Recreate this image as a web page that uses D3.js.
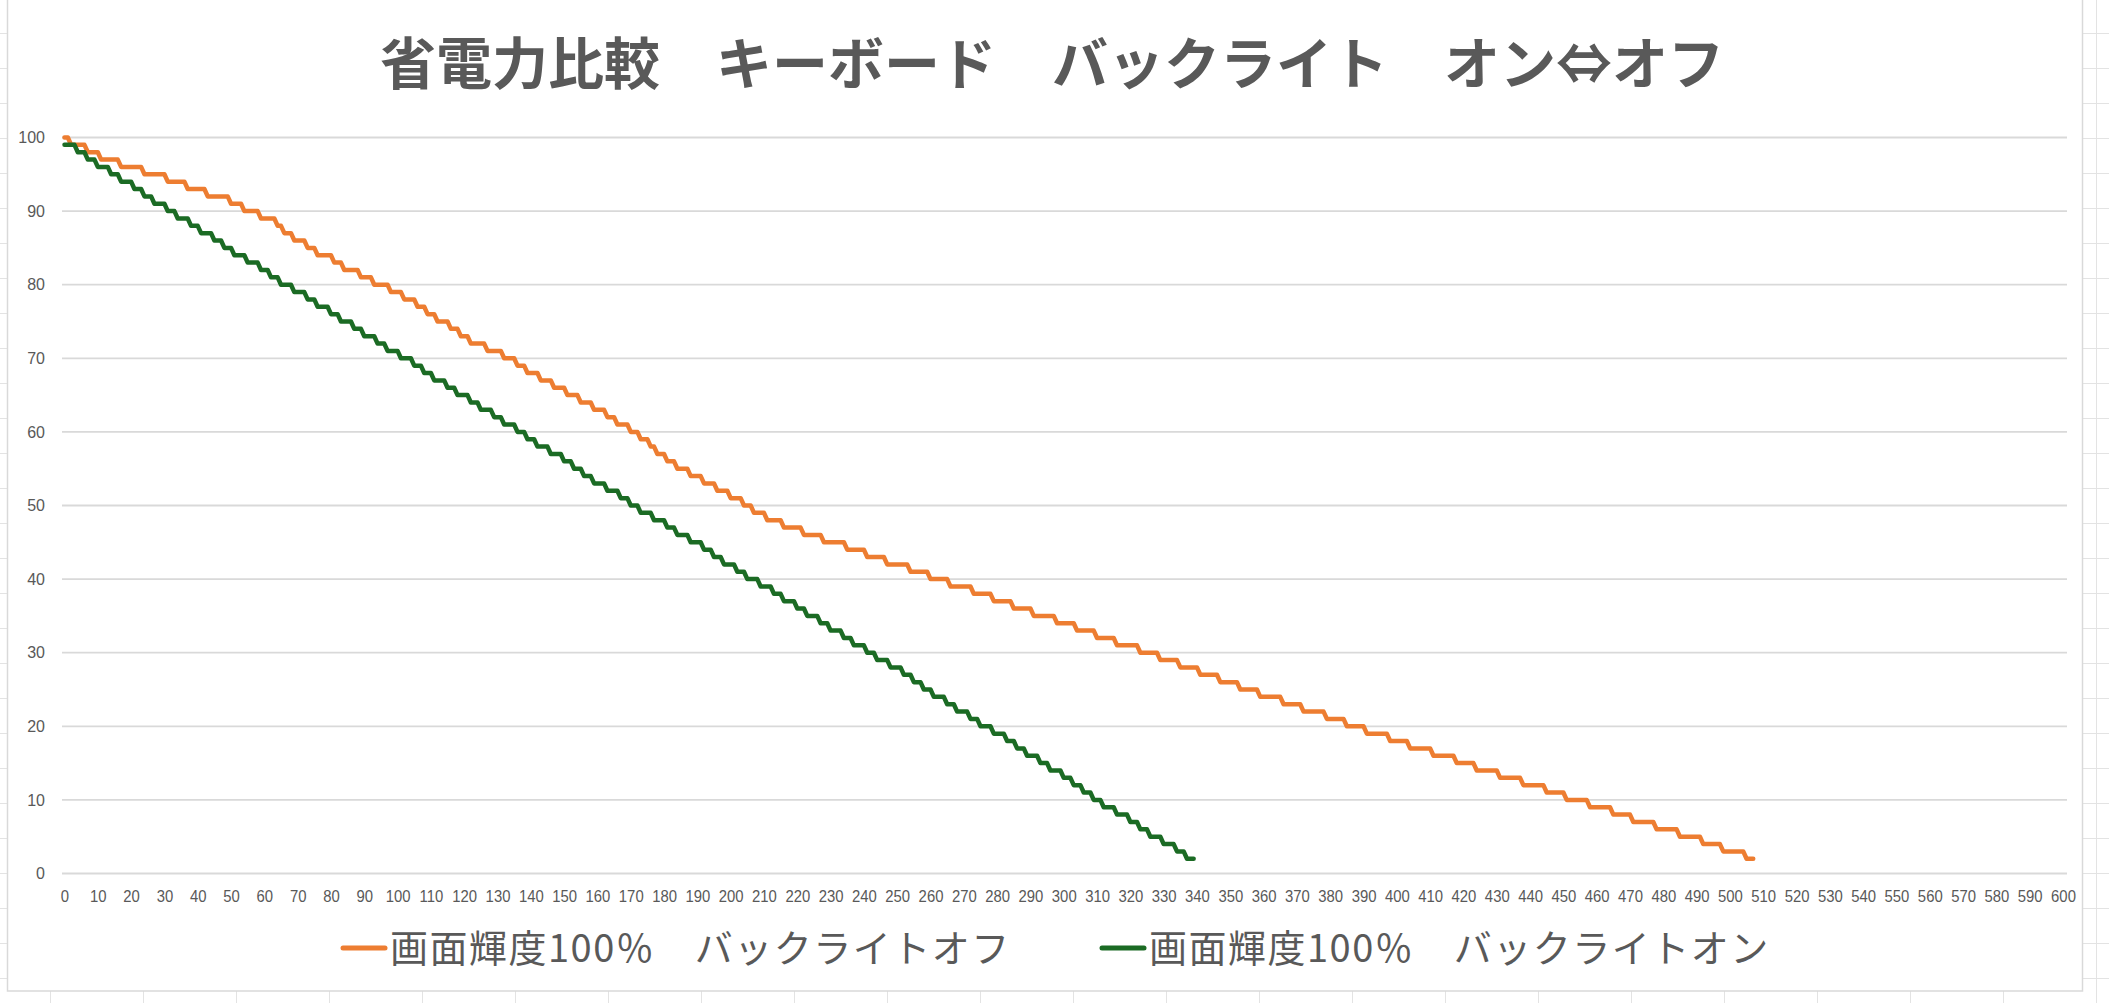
<!DOCTYPE html>
<html>
<head>
<meta charset="utf-8">
<script src="https://cdn.jsdelivr.net/npm/d3@7"></script>
<style>
    body { margin: 0; background: #fff; }
    #chart-area { width: 2109px; height: 1003px; }
    .tick text { font-family: "Liberation Sans", Arial, sans-serif; font-size: 16px; fill: #595959; }
</style>
</head>
<body>
<div id="chart-area"></div>
<script>

// [minute, battery %] at the moment each new level is first shown
const backlightOff = [
    [0,100],[2,99],[7,98],[11,97],[17,96],[24,95],[31,94],[37,93],[43,92],[50,91],
    [54,90],[59,89],[64,88],[66,87],[69,86],[73,85],[76,84],[81,83],[84,82],[89,81],
    [93,80],[98,79],[102,78],[106,77],[109,76],[112,75],[116,74],[119,73],[122,72],[127,71],
    [132,70],[136,69],[139,68],[143,67],[147,66],[151,65],[155,64],[159,63],[163,62],[166,61],
    [170,60],[173,59],[176,58],[178,57],[181,56],[184,55],[188,54],[192,53],[196,52],[200,51],
    [204,50],[207,49],[211,48],[216,47],[222,46],[228,45],[235,44],[241,43],[247,42],[254,41],
    [260,40],[266,39],[273,38],[279,37],[285,36],[291,35],[298,34],[304,33],[310,32],[316,31],
    [323,30],[329,29],[335,28],[341,27],[347,26],[353,25],[359,24],[366,23],[372,22],[379,21],
    [385,20],[391,19],[398,18],[404,17],[411,16],[418,15],[424,14],[431,13],[438,12],[445,11],
    [451,10],[458,9],[465,8],[471,7],[478,6],[485,5],[492,4],[498,3],[505,2],[507,2]
];

const backlightOn = [
    [0,99],[4,98],[7,97],[10,96],[14,95],[17,94],[21,93],[24,92],[27,91],[31,90],
    [34,89],[38,88],[41,87],[45,86],[48,85],[51,84],[55,83],[59,82],[62,81],[65,80],
    [69,79],[73,78],[76,77],[80,76],[83,75],[87,74],[90,73],[94,72],[97,71],[101,70],
    [105,69],[108,68],[111,67],[115,66],[118,65],[122,64],[125,63],[129,62],[132,61],[136,60],
    [139,59],[142,58],[146,57],[150,56],[153,55],[156,54],[159,53],[163,52],[167,51],[170,50],
    [173,49],[177,48],[181,47],[184,46],[188,45],[192,44],[195,43],[198,42],[202,41],[205,40],
    [209,39],[213,38],[216,37],[220,36],[223,35],[227,34],[230,33],[234,32],[237,31],[241,30],
    [244,29],[248,28],[252,27],[255,26],[258,25],[261,24],[265,23],[268,22],[272,21],[275,20],
    [279,19],[283,18],[286,17],[289,16],[293,15],[296,14],[300,13],[303,12],[306,11],[309,10],
    [312,9],[316,8],[320,7],[323,6],[326,5],[330,4],[334,3],[337,2],[339,2]
];

const seriesNames = ["画面輝度100％　バックライトオフ", "画面輝度100％　バックライトオン"];
const seriesColors = ["#ED7D31", "#1b6b24"];

const yTicks = [0, 10, 20, 30, 40, 50, 60, 70, 80, 90, 100];
const xTicks = [0, 10, 20, 30, 40, 50, 60, 70, 80, 90, 100, 110, 120, 130, 140, 150, 160, 170, 180, 190,
    200, 210, 220, 230, 240, 250, 260, 270, 280, 290, 300, 310, 320, 330, 340, 350, 360, 370, 380, 390,
    400, 410, 420, 430, 440, 450, 460, 470, 480, 490, 500, 510, 520, 530, 540, 550, 560, 570, 580, 590, 600];

const chartTitle = "省電力比較　キーボード　バックライト　オン⇔オフ";


class StepLineVis {

    constructor(parentElement, series) {
        this.parentElement = parentElement;
        this.series = series;

        this.initVis();
    }

    initVis() {
        let vis = this;

        vis.width = 2109;
        vis.height = 1003;
        vis.plot = {left: 62, right: 2067, x0: 64.5, x1: 2063, top: 137.5, bottom: 873.5};

        vis.svg = d3.select("#" + vis.parentElement).append("svg")
            .attr("width", vis.width)
            .attr("height", vis.height);

        // spreadsheet cells peeking out around the chart
        let cells = vis.svg.append("g").attr("stroke", "#e3e3e3").attr("stroke-width", 1);
        cells.selectAll(".row")
            .data(d3.range(-2, vis.height, 35))
            .join("line")
            .attr("x1", 0).attr("x2", vis.width)
            .attr("y1", d => d + 0.5).attr("y2", d => d + 0.5);
        cells.selectAll(".col")
            .data(d3.range(50, vis.width, 93))
            .join("line")
            .attr("y1", 0).attr("y2", vis.height)
            .attr("x1", d => d + 0.5).attr("x2", d => d + 0.5);

        // chart area
        vis.svg.append("rect")
            .attr("x", 7.5)
            .attr("y", -1)
            .attr("width", 2075)
            .attr("height", 992)
            .attr("fill", "#fff")
            .attr("stroke", "#d9d9d9")
            .attr("stroke-width", 1.5);

        vis.x = d3.scaleLinear()
            .domain([0, 600])
            .range([vis.plot.x0, vis.plot.x1]);

        vis.y = d3.scaleLinear()
            .domain([0, 100])
            .range([vis.plot.bottom, vis.plot.top]);

        // gridlines
        vis.svg.append("g")
            .attr("class", "grid")
            .selectAll("line")
            .data(yTicks)
            .join("line")
            .attr("x1", vis.plot.left)
            .attr("x2", vis.plot.right)
            .attr("y1", d => vis.y(d))
            .attr("y2", d => vis.y(d))
            .attr("stroke", "#d9d9d9")
            .attr("stroke-width", 1.8);

        vis.yAxis = d3.axisLeft(vis.y)
            .tickValues(yTicks)
            .tickSize(0)
            .tickPadding(17);

        vis.yAxisGroup = vis.svg.append("g")
            .attr("class", "y-axis")
            .attr("transform", `translate(${vis.plot.left}, 0)`)
            .call(vis.yAxis);
        vis.yAxisGroup.select(".domain").remove();

        vis.xAxis = d3.axisBottom(vis.x)
            .tickValues(xTicks)
            .tickSize(0)
            .tickPadding(17);

        vis.xAxisGroup = vis.svg.append("g")
            .attr("class", "x-axis")
            .attr("transform", `translate(0, ${vis.plot.bottom})`)
            .call(vis.xAxis);
        vis.xAxisGroup.select(".domain").remove();
        vis.xAxisGroup.selectAll(".tick text").attr("transform", "scale(0.93,1)");

        // title
        vis.svg.append("text")
            .text(chartTitle)
            .attr("x", 1052)
            .attr("y", 84)
            .attr("text-anchor", "middle")
            .attr("font-family", "'Noto Sans CJK JP', sans-serif")
            .attr("font-weight", "bold")
            .attr("font-size", 56)
            .attr("fill", "#595959");

        // legend
        let legendX = [343, 1102];
        let legend = vis.svg.append("g").attr("class", "legend")
            .selectAll("g")
            .data(seriesNames)
            .join("g")
            .attr("transform", (d, i) => `translate(${legendX[i]}, 948)`);

        legend.append("line")
            .attr("x1", 0)
            .attr("x2", 42)
            .attr("stroke", (d, i) => seriesColors[i])
            .attr("stroke-width", 5)
            .attr("stroke-linecap", "round");

        legend.append("text")
            .text(d => d)
            .attr("x", 47)
            .attr("y", 14)
            .attr("font-family", "'Noto Sans CJK JP', sans-serif")
            .attr("font-size", 38)
            .attr("letter-spacing", 1.5)
            .attr("fill", "#595959");

        vis.wrangleData();
    }

    wrangleData() {
        let vis = this;

        // a level holds until the minute before the next one appears
        vis.lineData = vis.series.map(steps => {
            let pts = [];
            steps.forEach((s, i) => {
                pts.push({t: s[0], v: s[1]});
                let next = steps[i + 1];
                if (next && next[0] - 1 > s[0]) {
                    pts.push({t: next[0] - 1, v: s[1]});
                }
            });
            return pts;
        });

        vis.updateVis();
    }

    updateVis() {
        let vis = this;

        let line = d3.line()
            .x(d => vis.x(d.t))
            .y(d => vis.y(d.v));

        vis.svg.selectAll(".series")
            .data(vis.lineData)
            .join("path")
            .attr("class", "series")
            .attr("d", line)
            .attr("fill", "none")
            .attr("stroke", (d, i) => seriesColors[i])
            .attr("stroke-width", 4.5)
            .attr("stroke-linejoin", "round")
            .attr("stroke-linecap", "round");
    }
}

new StepLineVis("chart-area", [backlightOff, backlightOn]);

</script>
</body>
</html>
